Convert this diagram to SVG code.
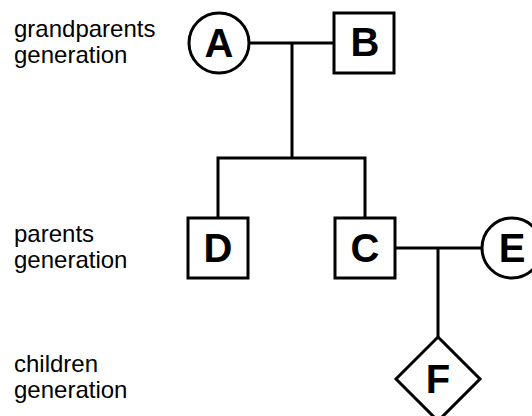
<svg xmlns="http://www.w3.org/2000/svg" width="532" height="416" viewBox="0 0 532 416">
<style>
.shape{fill:#fff;stroke:#000;stroke-width:3}
.lbl{font-family:"Liberation Sans",Arial,sans-serif;font-size:40px;font-weight:bold;text-anchor:middle;fill:#000}
.gen{font-family:"Liberation Sans",Arial,sans-serif;font-size:24px;fill:#000}
.conn{fill:none;stroke:#000;stroke-width:3}
</style>
<rect width="532" height="416" fill="#fff"/>
<g id="labels">
<text class="gen" x="14" y="37">grandparents</text>
<text class="gen" x="14" y="63">generation</text>
<text class="gen" x="14" y="242">parents</text>
<text class="gen" x="14" y="268">generation</text>
<text class="gen" x="14" y="372">children</text>
<text class="gen" x="14" y="398">generation</text>
</g>
<g id="connectors">
<path class="conn" d="M249 43H334"/>
<path class="conn" d="M292 43V158"/>
<path class="conn" d="M218 218V158H365V218"/>
<path class="conn" d="M395 248H482"/>
<path class="conn" d="M438 248V337"/>
</g>
<g id="A"><circle class="shape" cx="219" cy="43" r="30"/><text class="lbl" x="219" y="57">A</text></g>
<g id="B"><rect class="shape" x="334" y="13" width="60" height="60"/><text class="lbl" x="365" y="56">B</text></g>
<g id="D"><rect class="shape" x="188" y="218" width="60" height="60"/><text class="lbl" x="218" y="262">D</text></g>
<g id="C"><rect class="shape" x="335" y="218" width="60" height="60"/><text class="lbl" x="365" y="262">C</text></g>
<g id="E"><circle class="shape" cx="512" cy="248" r="30"/><text class="lbl" x="512" y="262">E</text></g>
<g id="F"><polygon class="shape" points="438,337 480,379 438,421 396,379"/><text class="lbl" x="438" y="393">F</text></g>
</svg>
